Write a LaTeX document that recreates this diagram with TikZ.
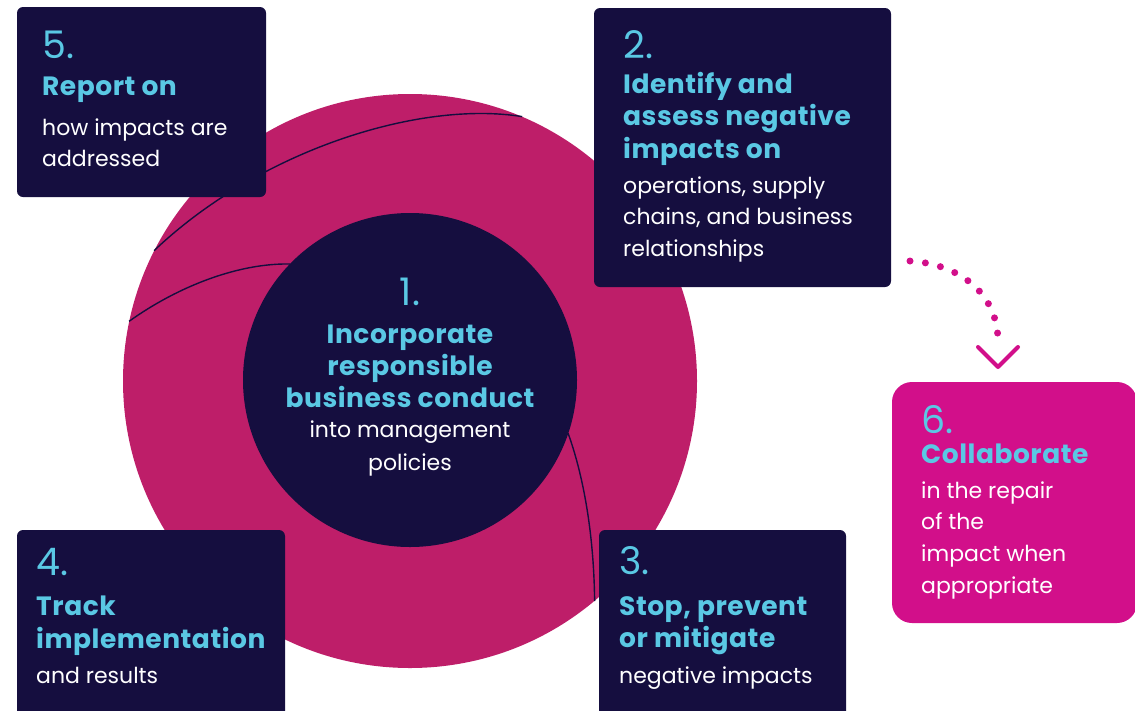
\documentclass[tikz,border=0pt]{standalone}
\usepackage{fontspec}
\setmainfont{Poppins}
\definecolor{navyBox}{RGB}{21,14,63}
\definecolor{rosePink}{RGB}{190,30,105}
\definecolor{hotPink}{RGB}{210,15,138}
\definecolor{skyText}{RGB}{90,200,228}

\tikzset{
  darkbox/.style={rectangle, fill=navyBox, rounded corners=6pt, inner sep=0pt, outer sep=0pt},
  numtxt/.style={anchor=base west, inner sep=0pt, text=skyText, font=\fontsize{38}{38}\selectfont},
  headtxt/.style={anchor=base west, inner sep=0pt, text=skyText, font=\fontsize{26.5}{26.5}\selectfont\bfseries\addfontfeature{LetterSpace=2}},
  bodytxt/.style={anchor=base west, inner sep=0pt, text=white, font=\fontsize{22}{22}\selectfont},
  orbit/.style={navyBox, line width=1.4pt},
}

\begin{document}
\begin{tikzpicture}[x=1pt, y=-1pt]
  \useasboundingbox (0,0) rectangle (1135,710);

  % Big pink circle and its orbit lines
  \node[circle, fill=rosePink, minimum size=574pt, inner sep=0pt] (outer) at (410,381) {};
  \draw[orbit] (outer.153) .. controls (260,150) and (420,100) .. (outer.67);
  \draw[orbit] (outer.168) .. controls (180,285) and (240,263) .. (290,264);
  \draw[orbit] (568,433) .. controls (585,480) and (594,540) .. (outer.-50);

  % Inner circle
  \node[circle, fill=navyBox, minimum size=334pt, inner sep=0pt] (inner) at (410,380) {};
  \node[numtxt, anchor=base] (n1) at (410,305) {1.};
  \foreach \t [count=\i] in {Incorporate, responsible, business conduct}
    \node[headtxt, anchor=base] (h1-\i) at (410,{343+32*(\i-1)}) {\t};
  \foreach \t [count=\i] in {into management, policies}
    \node[bodytxt, anchor=base] (b1-\i) at (410,{437+33*(\i-1)}) {\t};

  % Box 5
  \node[darkbox, minimum width=249pt, minimum height=190pt] (box5) at (141.5,102) {};
  \node[numtxt] (n5) at (42,58) {5.};
  \node[headtxt] (h5) at (42,95) {Report on};
  \foreach \t [count=\i] in {how impacts are, addressed}
    \node[bodytxt] (b5-\i) at (42,{135+31*(\i-1)}) {\t};

  % Box 2
  \node[darkbox, minimum width=297pt, minimum height=279pt] (box2) at (742.5,147.5) {};
  \node[numtxt] (n2) at (623,58) {2.};
  \foreach \t [count=\i] in {Identify and, assess negative, impacts on}
    \node[headtxt] (h2-\i) at (623,{93+32.5*(\i-1)}) {\t};
  \foreach \t [count=\i] in {{operations, supply}, {chains, and business}, relationships}
    \node[bodytxt] (b2-\i) at (623,{193+31.5*(\i-1)}) {\t};

  % Box 4
  \node[darkbox, minimum width=268pt, minimum height=190pt] (box4) at (151,625) {};
  \node[numtxt] (n4) at (36,575) {4.};
  \foreach \t [count=\i] in {Track, implementation}
    \node[headtxt] (h4-\i) at (36,{615+33*(\i-1)}) {\t};
  \node[bodytxt] (b4) at (36,683) {and results};

  % Box 3
  \node[darkbox, minimum width=247pt, minimum height=190pt] (box3) at (722.5,625) {};
  \node[numtxt] (n3) at (619,574) {3.};
  \foreach \t [count=\i] in {{Stop, prevent}, or mitigate}
    \node[headtxt] (h3-\i) at (619,{615+32*(\i-1)}) {\t};
  \node[bodytxt] (b3) at (619,683) {negative impacts};

  % Dotted arrow to box 6
  \coordinate (dotA) at (910,261);
  \coordinate (dotB) at (998,340);
  \coordinate (tip) at (998,367);
  \draw[hotPink, line width=7pt, line cap=round, dash pattern=on 0pt off 15.5pt]
    (dotA) .. controls (958,264) and (997,292) .. (dotB);
  \draw[hotPink, line width=4pt, line cap=round, line join=round]
    ([shift={(-20,-20)}]tip) -- (tip) -- ([shift={(20,-20)}]tip);

  % Box 6
  \node[darkbox, fill=hotPink, rounded corners=20pt, minimum width=245pt, minimum height=241pt] (box6) at (1014.5,502.5) {};
  \node[numtxt] (n6) at (921,433) {6.};
  \node[headtxt] (h6) at (921,463) {Collaborate};
  \foreach \t [count=\i] in {in the repair, of the, impact when, appropriate}
    \node[bodytxt] (b6-\i) at (921,{498+31.7*(\i-1)}) {\t};
\end{tikzpicture}
\end{document}
